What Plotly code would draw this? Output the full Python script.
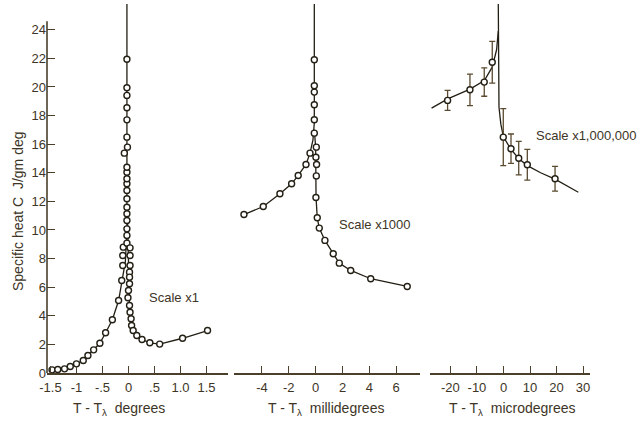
import plotly.graph_objects as go

# ---------------- data ----------------
# Panel 1: T - T_lambda in degrees
p1_pts_x = [-1.47, -1.36, -1.23, -1.12, -1.00, -0.87, -0.78, -0.67, -0.55, -0.44, -0.31, -0.19,
            -0.13, -0.11, -0.11, -0.10, -0.03,
            -0.03, -0.03, -0.03, -0.03, -0.03, -0.03, -0.03, -0.03, -0.03, -0.03, -0.03,
            -0.08, -0.02, -0.03, -0.03, -0.03, -0.03, -0.03, -0.03,
            0.03, 0.03, 0.03, 0.02, 0.02, 0.02, 0.00, -0.01, 0.02, 0.03, 0.05, 0.06,
            0.09, 0.16, 0.26, 0.41, 0.60, 1.04, 1.52]
p1_pts_y = [0.22, 0.24, 0.29, 0.45, 0.64, 0.87, 1.22, 1.62, 2.08, 2.81, 3.72, 5.07,
            6.47, 7.52, 8.22, 8.80, 9.08,
            9.62, 10.08, 10.66, 11.13, 11.59, 12.18, 12.76, 13.23, 13.58, 14.04, 14.39,
            15.37, 15.79, 16.49, 17.70, 18.55, 19.41, 19.94, 21.94,
            8.75, 8.22, 7.52, 7.05, 6.70, 6.24, 5.77, 5.26, 4.72, 4.25, 3.79, 3.32,
            2.97, 2.62, 2.34, 2.11, 2.02, 2.43, 2.97]
p1_lo_x = [-1.47, -1.36, -1.23, -1.12, -1.00, -0.87, -0.78, -0.67, -0.55, -0.44, -0.31, -0.19,
           -0.12, -0.06, -0.03, -0.03]
p1_lo_y = [0.22, 0.24, 0.29, 0.45, 0.64, 0.87, 1.22, 1.62, 2.08, 2.81, 3.72, 5.07,
           6.5, 7.8, 10.0, 25.8]
p1_hi_x = [1.52, 1.04, 0.60, 0.41, 0.26, 0.16, 0.09, 0.05, 0.02, 0.01, 0.00, -0.02]
p1_hi_y = [2.97, 2.43, 2.02, 2.11, 2.34, 2.62, 2.97, 3.5, 4.5, 6.0, 8.0, 11.0]

# Panel 2: millidegrees
p2_pts_x = [-5.34, -3.90, -2.66, -1.79, -1.30, -0.72, -0.42,
            -0.10, -0.10, -0.10, -0.10, -0.10, -0.10,
            0.05, 0.02, 0.07, 0.05, 0.02, 0.12, 0.27, 0.69, 1.31, 1.76, 2.61, 4.10, 6.82]
p2_pts_y = [11.08, 11.64, 12.53, 13.23, 13.81, 14.58, 15.37,
            16.77, 17.71, 18.76, 19.64, 20.08, 21.90,
            15.79, 15.09, 14.58, 13.78, 12.27, 10.85, 10.13, 9.27, 8.34, 7.68, 7.17, 6.59, 6.05]
p2_lo_x = [-5.34, -3.90, -2.66, -1.79, -1.30, -0.72, -0.42, -0.2, -0.1, -0.1]
p2_lo_y = [11.08, 11.64, 12.53, 13.23, 13.81, 14.58, 15.37, 16.3, 17.5, 25.8]
p2_hi_x = [6.82, 4.10, 2.61, 1.76, 1.31, 0.69, 0.27, 0.12, 0.03, 0.03, 0.00, -0.10]
p2_hi_y = [6.05, 6.59, 7.17, 7.68, 8.34, 9.27, 10.13, 10.85, 12.27, 14.58, 15.8, 17.0]

# Panel 3: microdegrees (with error bars)
p3_pts_x = [-21.06, -12.64, -7.25, -4.23, -0.08, 2.83, 5.74, 8.98, 19.43]
p3_pts_y = [19.06, 19.80, 20.34, 21.73, 16.49, 15.68, 15.02, 14.56, 13.58]
p3_err = [0.70, 1.10, 0.99, 1.46, 1.99, 1.03, 1.17, 1.07, 0.87]
p3_lo_x = [-27.1, -21.0, -12.6, -7.2, -4.2, -2.6, -1.96]
p3_lo_y = [18.52, 19.17, 19.85, 20.45, 21.4, 22.6, 23.9]
p3_hi_x = [-1.96, -1.96, -1.7, -1.0, 0.0, 2.8, 5.7, 9.0, 14.0, 19.4, 28.2]
p3_hi_y = [25.8, 20.5, 18.6, 17.4, 16.5, 15.65, 15.0, 14.5, 14.0, 13.55, 12.64]

y_ticks = list(range(0, 25, 2))
x1_ticks = [-1.5, -1, -0.5, 0, 0.5, 1.0, 1.5]
x1_text = ["-1.5", "-1", "-.5", "0", ".5", "1.0", "1.5"]
x2_ticks = [-4, -2, 0, 2, 4, 6]
x2_text = ["-4", "-2", "0", "2", "4", "6"]
x3_ticks = [-20, -10, 0, 10, 20, 30]
x3_text = ["-20", "-10", "0", "10", "20", "30"]

# ---------------- style ----------------
LINE = "#231f14"
AXIS = "#4a3f2a"
TEXT = "#3d3526"
ERR = "#5a4a30"
FONT = "Liberation Sans, Arial, sans-serif"

fig = go.Figure()

def add_line(x, y, xa):
    fig.add_trace(go.Scatter(x=x, y=y, xaxis=xa, yaxis="y", mode="lines",
                             line=dict(color=LINE, width=1.3), hoverinfo="skip",
                             showlegend=False))

def add_pts(x, y, xa, err=None):
    kw = {}
    if err is not None:
        kw["error_y"] = dict(type="data", array=err, visible=True, color=ERR,
                             thickness=1.3, width=3)
    fig.add_trace(go.Scatter(x=x, y=y, xaxis=xa, yaxis="y", mode="markers",
                             marker=dict(symbol="circle", size=6, color="white",
                                         line=dict(color=LINE, width=1.4)),
                             showlegend=False, **kw))

add_line(p1_lo_x, p1_lo_y, "x")
add_line(p1_hi_x, p1_hi_y, "x")
add_pts(p1_pts_x, p1_pts_y, "x")
add_line(p2_lo_x, p2_lo_y, "x2")
add_line(p2_hi_x, p2_hi_y, "x2")
add_pts(p2_pts_x, p2_pts_y, "x2")
add_line(p3_lo_x, p3_lo_y, "x3")
add_line(p3_hi_x, p3_hi_y, "x3")
add_pts(p3_pts_x, p3_pts_y, "x3", err=p3_err)

xcommon = dict(showline=True, linecolor=AXIS, linewidth=1.6, ticks="inside", ticklen=7,
               tickwidth=1.3, tickcolor=AXIS, showgrid=False, zeroline=False,
               anchor="y", ticklabelstandoff=2,
               tickfont=dict(family=FONT, size=13, color=TEXT))

fig.update_layout(
    width=641, height=423,
    margin=dict(l=47, r=51, t=4, b=50),
    paper_bgcolor="white", plot_bgcolor="white",
    font=dict(family=FONT, color=TEXT),
    xaxis=dict(domain=[0, 0.3333], range=[-1.567, 1.913], tickvals=x1_ticks,
               ticktext=x1_text, **xcommon),
    xaxis2=dict(domain=[0.3444, 0.6869], range=[-6.08, 7.77], tickvals=x2_ticks,
                ticktext=x2_text, **xcommon),
    xaxis3=dict(domain=[0.7053, 1.0], range=[-27.7, 32.6], tickvals=x3_ticks,
                ticktext=x3_text, **xcommon),
    yaxis=dict(range=[0, 25.8], tickvals=y_ticks, ticks="inside", ticklen=8, tickwidth=1.3,
               tickcolor=AXIS, showline=False, showgrid=False, zeroline=False, anchor="x",
               tickfont=dict(family=FONT, size=13, color=TEXT)),
    shapes=[dict(type="line", xref="paper", yref="y", x0=0, x1=0, y0=0, y1=24.6,
                 line=dict(color=AXIS, width=1.6))],
)

ann_font = dict(family=FONT, size=13, color=TEXT)
title_font = dict(family=FONT, size=14, color=TEXT)
fig.add_annotation(text="Scale x1", x=0.36, y=5.3, xref="x", yref="y", xanchor="left",
                   showarrow=False, font=ann_font)
fig.add_annotation(text="Scale x1000", x=1.59, y=10.38, xref="x2", yref="y", xanchor="left",
                   showarrow=False, font=ann_font)
fig.add_annotation(text="Scale x1,000,000", x=11.5, y=16.6, xref="x3", yref="y",
                   xanchor="left", showarrow=False, font=ann_font)
for xc, unit in [(0.1326, "degrees"), (0.5138, "millidegrees"), (0.857, "microdegrees")]:
    fig.add_annotation(text="T - T<sub>λ</sub>\u00a0\u00a0" + unit, x=xc, y=-0.097,
                       xref="paper", yref="paper", showarrow=False, font=title_font,
                       xanchor="center", yanchor="middle")
fig.add_annotation(text="Specific heat C\u00a0\u00a0J/gm deg", x=-0.0534, y=0.439,
                   xref="paper", yref="paper", textangle=-90, showarrow=False,
                   font=title_font, xanchor="center", yanchor="middle")

fig.write_html("out.html", config={"displayModeBar": False},
               post_script="document.body.style.margin='0';document.body.style.overflow='hidden';")
